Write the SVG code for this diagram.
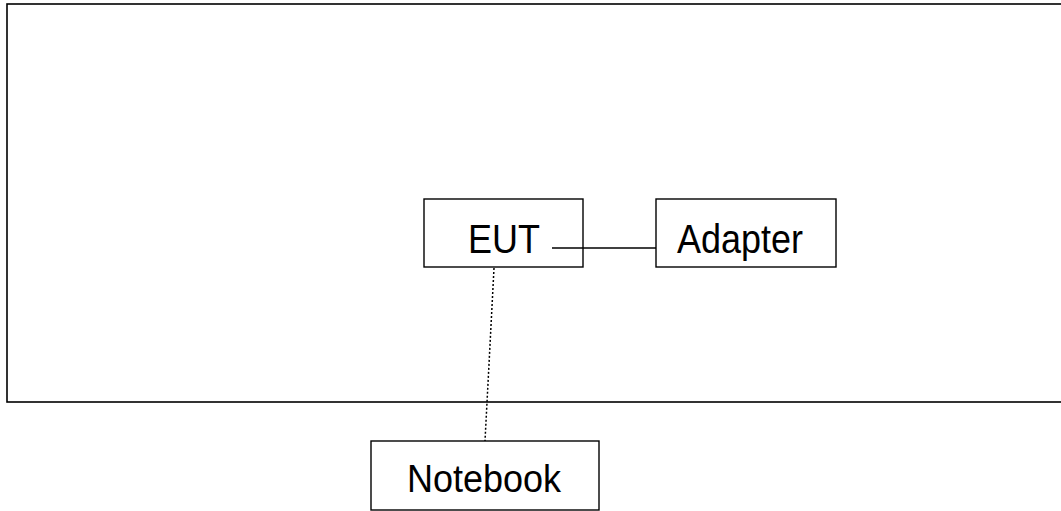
<svg xmlns="http://www.w3.org/2000/svg" width="1061" height="511" viewBox="0 0 1061 511">
<style>
.box{fill:#fff;stroke:#000;stroke-width:1.4}
.lbl{font-family:"Liberation Sans",Arial,sans-serif;font-size:36px;fill:#000}
.wire{stroke:#000;stroke-width:1.3;fill:none}
.dot{stroke:#000;stroke-width:1.5;stroke-dasharray:2 2;fill:none}
</style>
<rect width="1061" height="511" fill="#fff"/>
<g id="enclosure"><rect x="7" y="4" width="1070" height="398" fill="none" stroke="#000" stroke-width="1.6"/></g>
<g id="eut"><rect class="box" x="424" y="199" width="159" height="68"/><text class="lbl" transform="translate(468,253) scale(1,1.12)">EUT</text></g>
<g id="adapter"><rect class="box" x="656" y="199" width="180" height="68"/><text class="lbl" transform="translate(677,253) scale(1,1.12)">Adapter</text></g>
<g id="notebook"><rect class="box" x="371" y="441" width="228" height="69"/><text class="lbl" transform="translate(407,492) scale(1,1.1)">Notebook</text></g>
<g id="connectors">
<line class="wire" x1="552" y1="248" x2="656" y2="248"/>
<line class="dot" x1="494" y1="268" x2="485" y2="441"/>
</g>
</svg>
